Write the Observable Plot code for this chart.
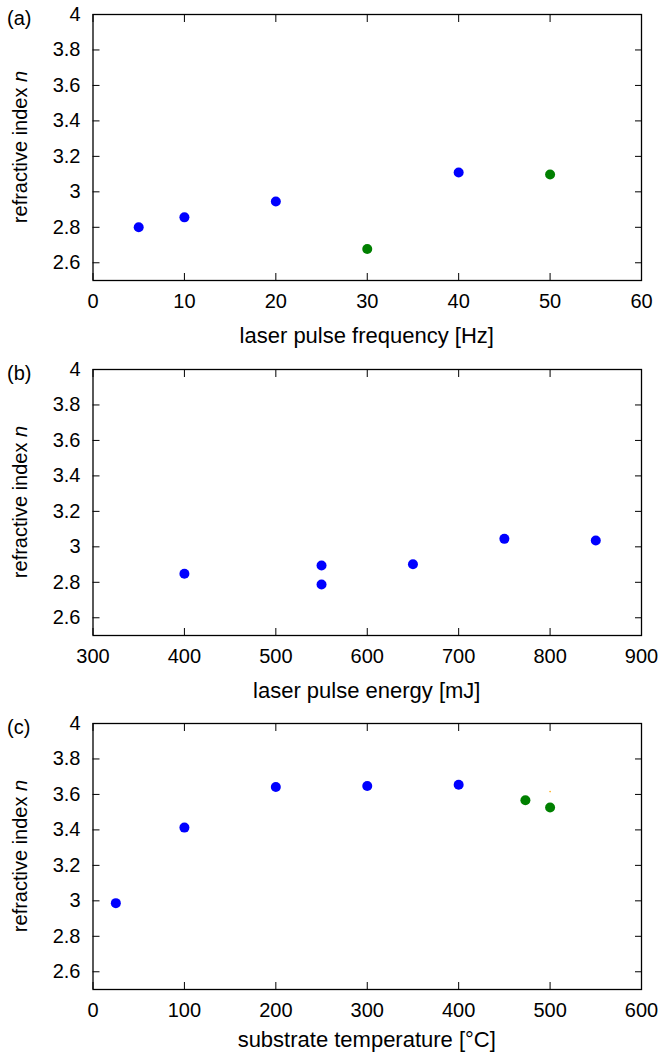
<!DOCTYPE html>
<html><head><meta charset="utf-8">
<script src="https://cdn.jsdelivr.net/npm/d3@7"></script>
<script src="https://cdn.jsdelivr.net/npm/@observablehq/plot@0.6"></script>
<style>
body{margin:0;background:#fff;}
#wrap{position:relative;width:663px;height:1055px;overflow:hidden;background:#fff;}
#wrap svg{position:absolute;left:0;}
</style></head><body><div id="wrap"></div>
<script>
// ---- data ----
const yTicks = [2.6, 2.8, 3.0, 3.2, 3.4, 3.6, 3.8, 4.0];

const freqTicks = [0, 10, 20, 30, 40, 50, 60];
const freqBlue = [5, 10, 20, 40];
const nFreqBlue = [2.80, 2.856, 2.945, 3.109];
const freqGreen = [30, 50];
const nFreqGreen = [2.678, 3.098];

const energyTicks = [300, 400, 500, 600, 700, 800, 900];
const energyBlue = [400, 550, 550, 650, 750, 850];
const nEnergyBlue = [2.848, 2.895, 2.788, 2.902, 3.045, 3.036];

const tempTicks = [0, 100, 200, 300, 400, 500, 600];
const tempBlue = [25, 100, 200, 300, 400];
const nTempBlue = [2.987, 3.413, 3.642, 3.648, 3.655];
const tempGreen = [473, 500];
const nTempGreen = [3.567, 3.526];
const tempOrange = [500];
const nTempOrange = [3.616];

// ---- drawing ----
const FONT = "'Liberation Sans', Arial, Helvetica, sans-serif";
const fmtY = d => String(+d.toFixed(1));
const pts = (xs, ys) => xs.map((x, i) => ({x, y: ys[i]}));

function panel({top, height, xDomain, xTicks, xLabel, letter, series, titleOffset}) {
  const mt = 14, ph = 266, ml = 92.5, mr = 22;
  const svg = Plot.plot({
    width: 663, height,
    marginTop: mt, marginBottom: height - mt - ph, marginLeft: ml, marginRight: mr,
    style: {fontSize: "20px", fontFamily: FONT, color: "black", background: "transparent", overflow: "visible"},
    x: {domain: xDomain},
    y: {domain: [2.5, 4]},
    marks: [
      Plot.axisX({ticks: xTicks, anchor: "bottom", tickSize: -7, tickFormat: () => "", label: null}),
      Plot.axisX({ticks: xTicks, anchor: "top", tickSize: -7, tickFormat: () => "", label: null}),
      Plot.axisY({ticks: yTicks, anchor: "left", tickSize: -7, tickFormat: () => "", label: null}),
      Plot.axisY({ticks: yTicks, anchor: "right", tickSize: -7, tickFormat: () => "", label: null}),
      Plot.axisX({ticks: xTicks, anchor: "bottom", tickSize: 0, tickPadding: 13, label: null, fontSize: 20}),
      Plot.axisY({ticks: yTicks, anchor: "left", tickSize: 0, tickPadding: 12.5, tickFormat: fmtY, label: null, fontSize: 20}),
      Plot.frame({stroke: "black", strokeWidth: 1.3}),
      ...series.map(s => Plot.dot(pts(s.x, s.y), {x: "x", y: "y", r: s.r, fill: s.color, stroke: "none"}))
    ]
  });
  svg.style.top = top + "px";
  const g = d3.select(svg);
  g.append("text")
    .attr("x", (ml + 663 - mr) / 2).attr("y", mt + ph + titleOffset)
    .attr("text-anchor", "middle").attr("dominant-baseline", "central")
    .attr("font-size", 22).attr("font-family", FONT).attr("fill", "black")
    .text(xLabel);
  const yt = g.append("text")
    .attr("transform", `translate(20,${mt + ph / 2}) rotate(-90)`)
    .attr("text-anchor", "middle").attr("dominant-baseline", "central")
    .attr("font-size", 20).attr("font-family", FONT).attr("fill", "black");
  yt.append("tspan").text("refractive index ");
  yt.append("tspan").attr("font-style", "italic").text("n");
  g.append("text")
    .attr("x", 7).attr("y", mt + 4)
    .attr("text-anchor", "start").attr("dominant-baseline", "central")
    .attr("font-size", 20).attr("font-family", FONT).attr("fill", "black")
    .text(letter);
  document.getElementById("wrap").appendChild(svg);
}

panel({top: 0, height: 355, xDomain: [0, 60], xTicks: freqTicks, titleOffset: 55,
  xLabel: "laser pulse frequency [Hz]", letter: "(a)",
  series: [{x: freqBlue, y: nFreqBlue, color: "#0000ff", r: 5},
           {x: freqGreen, y: nFreqGreen, color: "#008000", r: 5}]});
panel({top: 354.6, height: 355, xDomain: [300, 900], xTicks: energyTicks, titleOffset: 55,
  xLabel: "laser pulse energy [mJ]", letter: "(b)",
  series: [{x: energyBlue, y: nEnergyBlue, color: "#0000ff", r: 5}]});
panel({top: 709.3, height: 346, xDomain: [0, 600], xTicks: tempTicks, titleOffset: 50,
  xLabel: "substrate temperature [°C]", letter: "(c)",
  series: [{x: tempBlue, y: nTempBlue, color: "#0000ff", r: 5},
           {x: tempGreen, y: nTempGreen, color: "#008000", r: 5},
           {x: tempOrange, y: nTempOrange, color: "#ffa500", r: 0.8}]});
</script></body></html>
